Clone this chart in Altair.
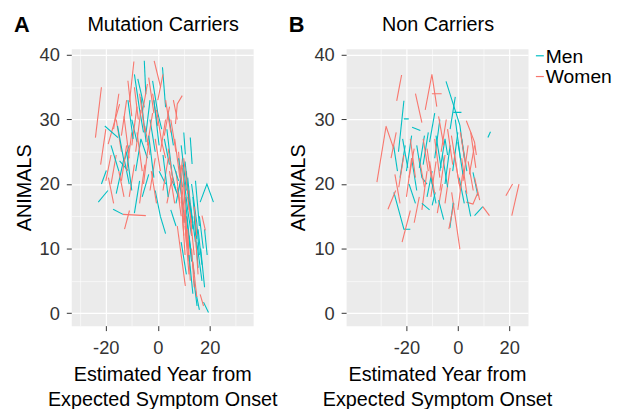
import altair as alt
import pandas as pd

# ---------------- data ----------------
# each trajectory: list of (estimated year from onset, ANIMALS score)
A_MEN = [
    [(-22.9, 17.2), (-19.2, 19.0)],
    [(-21.7, 20.0), (-19.8, 22.1)],
    [(-20.4, 29.0), (-15.3, 27.2)],
    [(-17.2, 16.1), (-13.4, 15.3)],
    [(-14.7, 23.6), (-11.5, 22.1)],
    [(-16.0, 18.5), (-13.0, 24.0), (-11.0, 20.0)],
    [(-7.7, 36.3), (-5.2, 31.9)],
    [(-5.2, 39.1), (-4.6, 33.9)],
    [(1.8, 38.1), (3.0, 31.9)],
    [(-10.0, 30.0), (-8.0, 26.5)],
    [(-8.5, 22.0), (-6.5, 27.0), (-4.0, 24.0)],
    [(-6.0, 18.0), (-3.5, 21.5)],
    [(-3.0, 30.0), (-1.0, 25.0)],
    [(-2.0, 36.0), (0.0, 31.0), (1.5, 28.5)],
    [(0.5, 22.0), (3.0, 20.0)],
    [(2.5, 27.0), (4.5, 23.0)],
    [(4.0, 31.0), (6.0, 26.0)],
    [(5.5, 20.5), (8.0, 18.0)],
    [(10.0, 28.0), (10.6, 24.6)],
    [(12.5, 27.2), (13.2, 23.1)],
    [(16.3, 17.2), (18.9, 20.0), (21.4, 17.2)],
    [(17.6, 1.7), (19.5, 0.1)],
    [(13.8, 5.3), (15.1, 1.1)],
    [(8.5, 20.0), (10.5, 14.0)],
    [(9.5, 22.5), (11.5, 16.0), (13.0, 12.0)],
    [(10.5, 18.0), (12.5, 10.0)],
    [(11.0, 15.0), (13.0, 8.0)],
    [(11.5, 21.0), (13.5, 13.0)],
    [(12.0, 12.0), (14.0, 6.0)],
    [(12.5, 17.0), (14.5, 11.0)],
    [(13.0, 20.0), (15.0, 14.0), (16.0, 9.0)],
    [(14.0, 15.0), (15.5, 7.0)],
    [(15.0, 11.0), (17.0, 5.0)],
    [(16.0, 15.0), (17.5, 10.0)],
    [(18.0, 13.0), (19.0, 9.0)],
    [(8.0, 24.0), (9.5, 19.5)],
    [(7.0, 17.0), (9.0, 21.0)],
    [(-12.0, 25.0), (-10.0, 19.0)],
    [(-9.0, 15.5), (-7.0, 20.5)],
    [(-1.0, 19.0), (1.0, 15.0)],
    [(1.0, 15.0), (3.0, 12.3)],
    [(5.0, 16.0), (7.0, 13.5)],
    [(-4.5, 28.0), (-3.0, 33.0)],
    [(14.5, 3.5), (16.0, 0.5)],
    [(9.0, 11.0), (11.0, 6.0)],
    [(-18.0, 26.0), (-15.0, 22.0)],
    [(-15.5, 29.0), (-13.0, 23.5), (-11.0, 26.0)],
    [(-11.5, 33.0), (-9.5, 27.0)],
    [(-9.0, 37.0), (-7.0, 31.5), (-5.5, 28.0)],
    [(-6.5, 33.5), (-4.5, 26.5)],
    [(-3.5, 27.5), (-1.5, 21.0)],
    [(-1.5, 33.0), (0.5, 26.0)],
    [(2.0, 24.5), (4.0, 18.0)],
    [(3.5, 28.5), (5.5, 21.5), (7.0, 19.0)],
    [(6.0, 23.0), (8.0, 20.5)],
    [(9.0, 26.0), (11.0, 19.0)],
    [(10.5, 23.5), (12.0, 17.5), (13.5, 14.0)],
    [(13.5, 18.0), (15.0, 11.5)],
    [(14.5, 20.5), (16.0, 13.5)],
    [(15.5, 13.0), (17.0, 7.5)],
    [(16.5, 10.0), (18.0, 4.0)],
    [(12.0, 9.0), (13.5, 3.0)],
]

A_WOMEN = [
    [(-24.0, 27.2), (-21.7, 35.0)],
    [(-19.1, 26.2), (-14.7, 32.4)],
    [(-18.0, 20.0), (-16.0, 24.5)],
    [(-13.4, 15.3), (-4.6, 15.1)],
    [(-12.8, 13.0), (-10.9, 15.9)],
    [(-10.9, 32.7), (-9.2, 39.0)],
    [(-1.4, 39.1), (1.1, 35.0)],
    [(6.8, 29.3), (7.5, 32.4), (9.4, 33.7)],
    [(-16.0, 30.0), (-14.0, 25.0)],
    [(-14.0, 27.5), (-12.0, 33.0)],
    [(-12.0, 22.0), (-10.0, 28.0)],
    [(-11.0, 18.0), (-9.0, 23.0)],
    [(-9.0, 35.0), (-7.5, 30.0)],
    [(-8.0, 28.0), (-6.0, 22.0)],
    [(-7.0, 17.0), (-5.0, 23.0)],
    [(-6.0, 31.0), (-4.0, 35.5)],
    [(-4.0, 26.0), (-2.0, 31.0)],
    [(-3.0, 19.0), (-1.0, 24.0)],
    [(-2.0, 34.0), (0.0, 29.0)],
    [(-1.0, 27.0), (1.0, 22.0)],
    [(0.0, 33.0), (2.0, 37.0)],
    [(1.0, 25.0), (3.0, 30.0)],
    [(2.0, 19.0), (4.0, 24.0)],
    [(3.0, 33.0), (5.0, 28.0)],
    [(4.5, 22.0), (6.5, 17.0)],
    [(5.0, 30.0), (7.0, 25.0)],
    [(7.5, 13.5), (10.6, 4.2)],
    [(16.3, 2.9), (17.6, 1.1)],
    [(7.0, 22.0), (8.5, 17.0)],
    [(8.0, 25.0), (9.0, 19.0), (10.0, 14.0)],
    [(8.5, 20.0), (9.5, 24.0)],
    [(9.0, 18.0), (10.0, 12.0)],
    [(9.5, 23.0), (10.5, 17.0)],
    [(10.0, 20.0), (11.0, 13.0), (12.0, 8.0)],
    [(10.5, 16.0), (11.5, 10.0)],
    [(11.0, 22.0), (12.0, 16.0)],
    [(11.5, 13.0), (12.5, 5.0)],
    [(12.0, 19.0), (13.0, 12.0)],
    [(13.0, 10.0), (14.0, 4.0)],
    [(14.5, 12.0), (15.5, 6.0)],
    [(17.0, 15.1), (18.3, 12.8)],
    [(-19.0, 21.0), (-17.0, 17.0)],
    [(-15.0, 22.0), (-13.0, 18.0)],
    [(-10.0, 26.0), (-8.0, 32.0)],
    [(-5.0, 29.0), (-3.0, 24.5)],
    [(-2.5, 22.0), (-0.5, 17.0)],
    [(3.5, 17.0), (5.5, 21.0)],
    [(6.0, 33.0), (7.5, 30.0)],
    [(-14.0, 20.5), (-12.0, 26.0)],
    [(11.5, 18.0), (13.0, 14.0)],
    [(-20.0, 20.5), (-18.0, 24.5)],
    [(-22.0, 23.0), (-20.0, 28.5)],
    [(-17.0, 28.5), (-15.0, 34.0)],
    [(-13.0, 30.5), (-11.0, 24.0)],
    [(-11.5, 36.0), (-10.0, 30.5)],
    [(-8.5, 25.0), (-6.5, 31.5)],
    [(-7.0, 34.0), (-5.0, 28.0)],
    [(-5.5, 20.0), (-3.5, 26.5)],
    [(-3.5, 36.5), (-1.5, 31.0)],
    [(-0.5, 31.5), (1.5, 26.5), (3.0, 24.0)],
    [(2.5, 27.5), (4.5, 32.0)],
    [(4.0, 25.5), (6.0, 20.0)],
    [(6.5, 27.0), (8.5, 21.0)],
    [(7.5, 19.5), (9.0, 15.0)],
    [(8.5, 23.0), (10.0, 16.5), (11.0, 11.0)],
    [(9.5, 15.0), (10.5, 9.0)],
    [(10.0, 24.0), (11.5, 18.5)],
    [(10.5, 13.5), (12.0, 6.0)],
    [(12.5, 15.0), (14.0, 9.0)],
    [(13.5, 8.0), (15.0, 2.5)],
    [(14.0, 16.5), (15.0, 12.0)],
]

B_MEN = [
    [(-23.1, 25.0), (-21.0, 32.9)],
    [(-21.0, 30.1), (-19.1, 30.1)],
    [(-4.6, 35.9), (0.8, 29.1), (2.5, 24.0)],
    [(-1.8, 31.1), (1.4, 31.1)],
    [(11.7, 27.2), (12.7, 28.1)],
    [(-24.9, 18.7), (-21.0, 13.0), (-18.5, 13.0)],
    [(6.5, 15.1), (9.7, 16.5)],
    [(5.9, 21.8), (7.8, 18.2)],
    [(-10.0, 16.7), (-8.8, 18.7)],
    [(-3.1, 13.2), (-1.8, 17.1)],
    [(-20.0, 22.0), (-18.0, 27.5)],
    [(-18.0, 24.0), (-16.0, 19.0)],
    [(-16.0, 26.0), (-14.0, 21.0), (-12.0, 20.0)],
    [(-13.5, 23.0), (-11.5, 28.0)],
    [(-12.0, 18.0), (-10.0, 22.0)],
    [(-9.0, 24.0), (-7.0, 30.0)],
    [(-7.0, 22.0), (-5.0, 27.0), (-4.0, 24.5)],
    [(-5.0, 20.0), (-3.0, 26.0)],
    [(-2.0, 22.0), (0.0, 28.0)],
    [(-1.0, 30.0), (1.0, 24.0)],
    [(0.5, 21.0), (2.5, 17.0)],
    [(1.5, 27.0), (3.5, 22.0)],
    [(-22.5, 21.0), (-20.5, 26.0)],
    [(-19.0, 20.0), (-16.5, 17.0)],
    [(-14.0, 17.0), (-11.0, 16.0)],
    [(-7.5, 17.5), (-5.5, 14.5)],
    [(3.0, 19.0), (5.0, 15.0)],
    [(-11.0, 26.5), (-9.0, 31.0)],
    [(-17.8, 28.8), (-14.6, 28.3)],
    [(-25.0, 26.0), (-23.5, 22.0)],
    [(-21.5, 27.0), (-19.5, 22.5)],
    [(-15.0, 22.5), (-13.0, 27.5)],
    [(-8.5, 27.5), (-6.5, 22.5)],
    [(-6.0, 24.5), (-4.0, 19.5)],
    [(-3.0, 28.5), (-1.0, 33.5)],
    [(0.0, 26.5), (2.0, 21.5)],
    [(-10.5, 21.0), (-8.5, 17.0)],
]

B_WOMEN = [
    [(-23.8, 32.9), (-21.9, 36.9)],
    [(-12.7, 31.5), (-10.1, 37.0), (-8.2, 32.0)],
    [(-10.1, 34.0), (-6.3, 34.0)],
    [(-31.5, 20.3), (-28.0, 28.8)],
    [(-28.0, 29.0), (-24.9, 25.4)],
    [(-27.2, 16.1), (-24.2, 19.0)],
    [(-21.7, 11.0), (-18.5, 15.9)],
    [(-2.4, 18.7), (0.8, 9.9)],
    [(9.7, 16.5), (12.3, 15.1)],
    [(18.7, 18.2), (21.3, 20.0)],
    [(21.0, 15.1), (23.8, 20.0)],
    [(-16.5, 34.0), (-14.0, 29.5)],
    [(3.3, 29.8), (6.5, 26.5), (7.2, 24.5)],
    [(3.3, 17.2), (5.9, 16.9), (7.8, 18.7)],
    [(-20.0, 18.0), (-18.0, 24.0)],
    [(-18.5, 27.0), (-16.5, 21.0)],
    [(-15.0, 24.0), (-13.0, 19.5)],
    [(-14.0, 16.0), (-12.0, 22.0)],
    [(-12.0, 25.5), (-10.0, 20.0)],
    [(-10.5, 18.0), (-8.5, 23.5)],
    [(-9.0, 27.0), (-7.0, 21.0)],
    [(-8.0, 15.5), (-6.0, 20.0)],
    [(-6.5, 25.0), (-4.5, 30.0)],
    [(-5.0, 17.0), (-3.0, 22.5)],
    [(-4.0, 28.5), (-2.0, 23.0)],
    [(-1.5, 25.0), (0.5, 20.0)],
    [(0.0, 16.0), (2.0, 22.0)],
    [(1.0, 28.0), (3.0, 23.0)],
    [(2.0, 20.5), (4.0, 26.0)],
    [(4.0, 23.5), (6.0, 19.0)],
    [(5.0, 28.0), (7.0, 22.5)],
    [(6.5, 21.0), (8.5, 17.5)],
    [(-23.0, 19.5), (-21.0, 24.5)],
    [(-26.0, 24.0), (-24.0, 28.0)],
    [(-17.0, 14.0), (-15.0, 18.0)],
    [(-3.5, 13.0), (-1.5, 17.0)],
    [(-7.5, 30.5), (-5.5, 26.0)],
    [(-24.5, 21.5), (-22.5, 17.0)],
    [(-19.0, 21.0), (-17.0, 25.5)],
    [(-13.5, 27.0), (-11.5, 22.0)],
    [(-11.0, 23.5), (-9.0, 18.5)],
    [(-7.0, 19.0), (-5.0, 24.5)],
    [(-2.5, 27.5), (-0.5, 22.5), (1.0, 19.0)],
    [(1.5, 24.0), (3.5, 18.5)],
    [(4.5, 21.5), (6.5, 26.0)],
]

SEXES = ["Men", "Women"]
COLORS = ["#00BFC4", "#F8766D"]
PANEL_TITLES = ["Mutation Carriers", "Non Carriers"]
PANEL_LETTERS = ["A", "B"]
X_TITLE = ["Estimated Year from", "Expected Symptom Onset"]
Y_TITLE = "ANIMALS"
A_XDOMAIN = [-33.3, 36.7]
B_XDOMAIN = [-43.5, 27.3]
Y_DOMAIN = [-1.95, 40.95]
A_XVALUES = [-30, -20, -10, 0, 10, 20, 30]
B_XVALUES = [-30, -20, -10, 0, 10, 20]
Y_VALUES = [0, 5, 10, 15, 20, 25, 30, 35, 40]

FONT = "Liberation Sans"
PW, PH = 184, 280


def build(men, women):
    rows = []
    sid = 0
    n = max(len(men), len(women))
    for i in range(n):
        for sex, group in (("Men", men), ("Women", women)):
            if i < len(group):
                for k, (x, y) in enumerate(group[i]):
                    rows.append({"sid": sid, "sex": sex, "year": x, "score": y, "k": k})
                sid += 1
    return pd.DataFrame(rows)


def major_minor(step):
    return {
        "tickOpacity": {"condition": {"test": f"datum.value % {step} !== 0", "value": 0}, "value": 1},
        "gridWidth": {"condition": {"test": f"datum.value % {step} !== 0", "value": 0.6}, "value": 1.2},
        "labelExpr": f"datum.value % {step} === 0 ? '' + datum.value : ''",
    }


def text_layer(txt, x, y, **kw):
    return alt.Chart(pd.DataFrame({"t": [txt]})).mark_text(
        font=FONT, baseline="alphabetic", color="black", **kw
    ).encode(text="t:N", x=alt.value(x), y=alt.value(y))


def panel(df, title, letter, xdom, xvals, with_legend):
    lines = alt.Chart(df).mark_line(strokeWidth=1.1, clip=True).encode(
        x=alt.X("year:Q", scale=alt.Scale(domain=xdom, nice=False, zero=False),
                axis=alt.Axis(values=xvals, labelPadding=8, titlePadding=8, **major_minor(20)),
                title=X_TITLE),
        y=alt.Y("score:Q", scale=alt.Scale(domain=Y_DOMAIN, nice=False, zero=False),
                axis=alt.Axis(values=Y_VALUES, labelPadding=7, titlePadding=5, **major_minor(10)),
                title=Y_TITLE),
        color=alt.Color("sex:N", scale=alt.Scale(domain=SEXES, range=COLORS), legend=None),
        detail="sid:N",
        order="k:Q",
    )
    layers = [
        lines,
        text_layer(letter, -58, -17, fontSize=22, fontWeight="bold", align="left"),
        text_layer(title, PW / 2 + 1, -18, fontSize=20, align="center"),
    ]
    if with_legend:
        for i, (sex, col) in enumerate(zip(SEXES, COLORS)):
            yy = 7 + 21 * i
            layers.append(
                alt.Chart(pd.DataFrame({"s": [sex]})).mark_rule(color=col, strokeWidth=1.2).encode(
                    x=alt.value(PW + 8), x2=alt.value(PW + 16), y=alt.value(yy)
                )
            )
            layers.append(
                alt.Chart(pd.DataFrame({"t": [sex]})).mark_text(
                    font=FONT, fontSize=19.5, align="left", baseline="middle", color="black"
                ).encode(text="t:N", x=alt.value(PW + 18), y=alt.value(yy + 1))
            )
    return alt.layer(*layers).properties(width=PW, height=PH)


pA = panel(build(A_MEN, A_WOMEN), PANEL_TITLES[0], PANEL_LETTERS[0], A_XDOMAIN, A_XVALUES, False)
pB = panel(build(B_MEN, B_WOMEN), PANEL_TITLES[1], PANEL_LETTERS[1], B_XDOMAIN, B_XVALUES, True)

chart = alt.hconcat(pA, pB, spacing=10).properties(
    padding={"left": 5, "top": 3, "right": 0, "bottom": 0}
).configure_view(
    fill="#EBEBEB", stroke="transparent"
).configure_axis(
    domain=False, gridColor="white", tickColor="#333333", tickSize=5, tickWidth=1,
    labelFont=FONT, labelFontSize=18.5, labelColor="#333333",
    titleFont=FONT, titleFontSize=20, titleColor="black", titleFontWeight="normal",
    titleLineHeight=25,
)

chart.save("out.html", embed_options={"renderer": "svg", "actions": False})
